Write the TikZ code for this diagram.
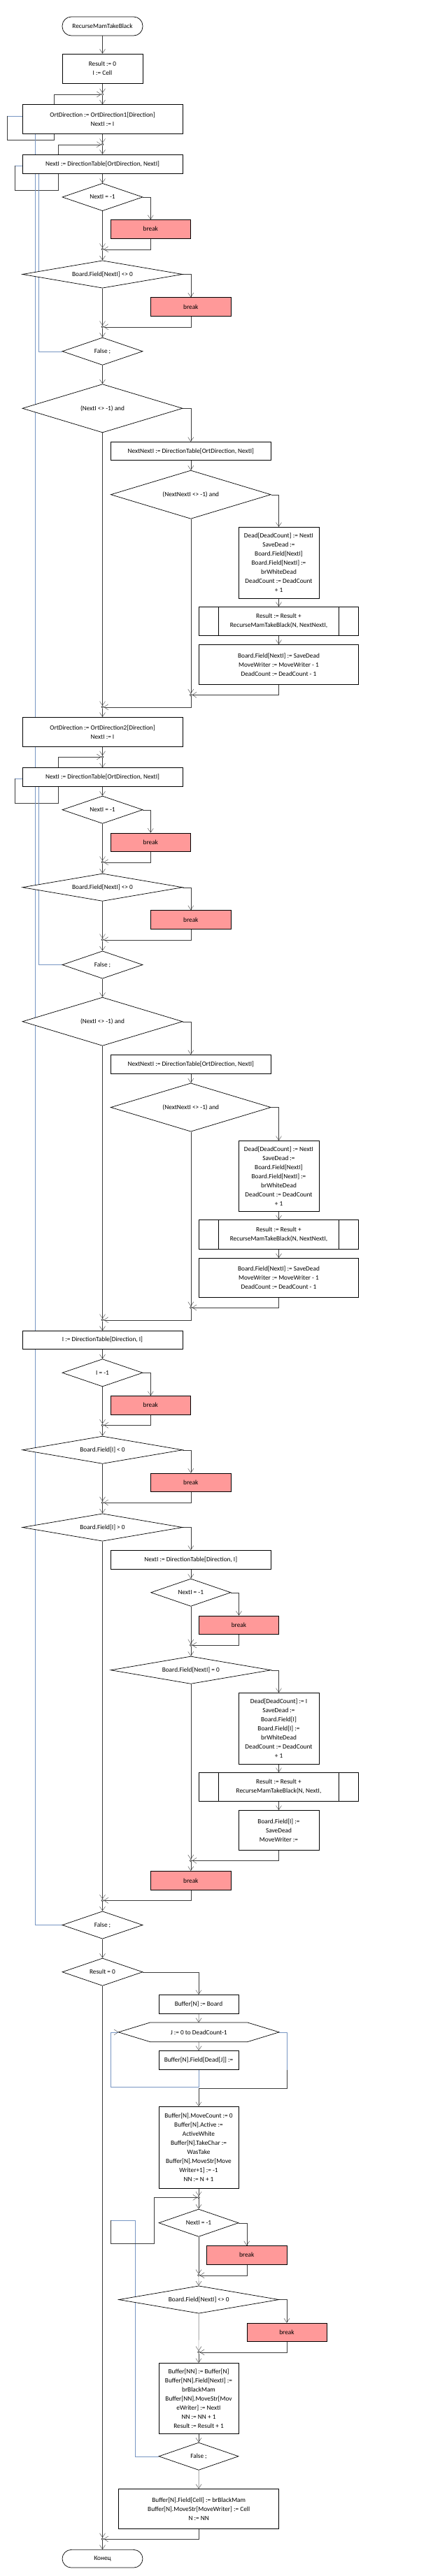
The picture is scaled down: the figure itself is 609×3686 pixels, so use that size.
\documentclass[tikz,border=0pt]{standalone}
\usepackage{fontspec}
\setmainfont{Carlito}
\usetikzlibrary{arrows.meta,shapes.geometric,backgrounds}

\definecolor{linegray}{RGB}{60,60,60}
\definecolor{loopblue}{RGB}{120,150,195}
\definecolor{breakred}{RGB}{255,153,153}

\begin{document}
\begin{tikzpicture}[x=1pt, y=-1pt, line width=0.7pt,
  every node/.style={font=\fontsize{9.3}{13}\selectfont},
  box/.style={rectangle, draw, fill=white, inner sep=0pt, align=center},
  wide box/.style={box, minimum width=229pt},
  small box/.style={box, minimum width=115pt},
  proc box/.style={box, minimum width=228.4pt},
  break box/.style={box, fill=breakred, minimum width=114.3pt, minimum height=26.6pt},
  term/.style={box, rounded corners=13pt, minimum width=115pt, minimum height=27pt},
  cond/.style={diamond, draw, fill=white, inner sep=0pt, minimum width=115pt, minimum height=39.4pt, aspect=2.9},
  wide cond/.style={cond, minimum width=229pt, aspect=5.8},
  tall cond/.style={cond, minimum width=229pt, minimum height=69.3pt, aspect=3.3},
  junc/.style={circle, draw=linegray, fill=white, inner sep=0pt, minimum size=3pt},
  flow/.style={draw=linegray, -{Straight Barb[length=6pt,width=8pt]}},
  loopline/.style={draw=loopblue}]

\useasboundingbox (0,0) rectangle (609,3686);

% first direction
\node[term] (start) at (146.5,37.5) {RecurseMamTakeBlack};
\node[small box, minimum height=42pt] (init) at (146.5,98) {Result := 0\\I := Cell};
\node[junc] (j1) at (146.5,135) {};
\node[wide box, minimum height=41.5pt] (ort1) at (146.5,170.5) {OrtDirection := OrtDirection1[Direction]\\NextI := I};
\node[junc] (j2) at (146.5,206.7) {};
\node[wide box, minimum height=27pt] (step1) at (146.5,234.5) {NextI := DirectionTable[OrtDirection, NextI]};
\node[cond] (d1a) at (146.5,282) {NextI = -1};
\node[break box] (brk1a) at (215.3,327.8) {break};
\node[junc] (j3) at (146.5,356.7) {};
\node[wide cond] (d1b) at (146.5,392.5) {Board.Field[NextI] <> 0};
\node[break box] (brk1b) at (272.8,439) {break};
\node[junc] (j4) at (146.5,467.7) {};
\node[cond] (f1) at (146.5,502.7) {False ;};
\node[tall cond] (d1c) at (146.5,584.3) {(NextI <> -1) and};
\node[wide box, minimum height=26pt] (nn1) at (272.8,645.3) {NextNextI := DirectionTable[OrtDirection, NextI]};
\node[tall cond] (d1d) at (272.8,707.7) {(NextNextI <> -1) and};
\node[small box, minimum height=102pt] (dead1) at (398.5,805.3) {Dead[DeadCount] := NextI\\SaveDead :=\\Board.Field[NextI]\\Board.Field[NextI] :=\\brWhiteDead\\DeadCount := DeadCount\\+ 1};
\node[proc box, minimum height=41pt] (rec1) at (398.5,888.8) {Result := Result +\\RecurseMamTakeBlack(N, NextNextI,};
\node[proc box, minimum height=57pt] (rest1) at (398.5,950.8) {Board.Field[NextI] := SaveDead\\MoveWriter := MoveWriter - 1\\DeadCount := DeadCount - 1};
\node[junc] (j5) at (272.8,994.3) {};
\node[junc] (j6) at (146.5,1011.7) {};

% second direction
\node[wide box, minimum height=42pt] (ort2) at (146.5,1047.3) {OrtDirection := OrtDirection2[Direction]\\NextI := I};
\node[junc] (j7) at (146.5,1083) {};
\node[wide box, minimum height=26.6pt] (step2) at (146.5,1112) {NextI := DirectionTable[OrtDirection, NextI]};
\node[cond] (d2a) at (146.5,1158.7) {NextI = -1};
\node[break box] (brk2a) at (215.3,1205.3) {break};
\node[junc] (j8) at (146.5,1233.7) {};
\node[wide cond] (d2b) at (146.5,1269.7) {Board.Field[NextI] <> 0};
\node[break box] (brk2b) at (272.8,1315.8) {break};
\node[junc] (j9) at (146.5,1344.7) {};
\node[cond] (f2) at (146.5,1380.5) {False ;};
\node[tall cond] (d2c) at (146.5,1461.7) {(NextI <> -1) and};
\node[wide box, minimum height=26.7pt] (nn2) at (272.8,1522.7) {NextNextI := DirectionTable[OrtDirection, NextI]};
\node[tall cond] (d2d) at (272.8,1584.5) {(NextNextI <> -1) and};
\node[small box, minimum height=101pt] (dead2) at (398.5,1682.8) {Dead[DeadCount] := NextI\\SaveDead :=\\Board.Field[NextI]\\Board.Field[NextI] :=\\brWhiteDead\\DeadCount := DeadCount\\+ 1};
\node[proc box, minimum height=41.6pt] (rec2) at (398.5,1766.5) {Result := Result +\\RecurseMamTakeBlack(N, NextNextI,};
\node[proc box, minimum height=55.7pt] (rest2) at (398.5,1828.2) {Board.Field[NextI] := SaveDead\\MoveWriter := MoveWriter - 1\\DeadCount := DeadCount - 1};
\node[junc] (j10) at (272.8,1871) {};
\node[junc] (j11) at (146.5,1888.7) {};

% step along direction
\node[wide box, minimum height=25.7pt] (stepI) at (146.5,1917.2) {I := DirectionTable[Direction, I]};
\node[cond] (d3a) at (146.5,1964.3) {I = -1};
\node[break box] (brk3a) at (215.3,2010.7) {break};
\node[junc] (j12) at (146.5,2039.3) {};
\node[wide cond] (d3b) at (146.5,2074.7) {Board.Field[I] < 0};
\node[break box] (brk3b) at (272.8,2121.3) {break};
\node[junc] (j13) at (146.5,2150) {};
\node[wide cond] (d3c) at (146.5,2185.5) {Board.Field[I] > 0};
\node[wide box, minimum height=27pt] (nx3) at (272.8,2231.8) {NextI := DirectionTable[Direction, I]};
\node[cond, minimum width=114.3pt] (d3d) at (272.8,2278.7) {NextI = -1};
\node[break box] (brk3d) at (341.5,2325.3) {break};
\node[junc] (j14) at (272.8,2354) {};
\node[wide cond] (d3e) at (272.8,2389.7) {Board.Field[NextI] = 0};
\node[small box, minimum height=102pt] (dead3) at (398.5,2473.3) {Dead[DeadCount] := I\\SaveDead :=\\Board.Field[I]\\Board.Field[I] :=\\brWhiteDead\\DeadCount := DeadCount\\+ 1};
\node[proc box, minimum height=41pt] (rec3) at (398.5,2556.8) {Result := Result +\\RecurseMamTakeBlack(N, NextI,};
\node[small box, minimum height=57pt] (rest3) at (398.5,2618.8) {Board.Field[I] :=\\SaveDead\\MoveWriter :=};
\node[junc] (j15) at (272.8,2662.3) {};
\node[break box, minimum height=27pt] (brk3e) at (272.8,2690.8) {break};
\node[junc] (j16) at (146.5,2719.3) {};
\node[cond] (f3) at (146.5,2754.5) {False ;};

% store the move
\node[cond] (dres) at (146.5,2821.7) {Result = 0};
\node[small box, minimum width=114pt, minimum height=27pt] (buf) at (284,2867.8) {Buffer[N] := Board};
\node[inner sep=0pt, minimum width=229pt, minimum height=27pt] (hexJ) at (284.2,2907.8) {J := 0 to DeadCount-1};
\node[small box, minimum width=114pt, minimum height=27pt] (bufJ) at (284,2947.8) {Buffer[N].Field[Dead[J]] :=};
\node[small box, minimum width=114pt, minimum height=117pt] (bufm) at (284,3072.8) {Buffer[N].MoveCount := 0\\Buffer[N].Active :=\\ActiveWhite\\Buffer[N].TakeChar :=\\WasTake\\Buffer[N].MoveStr[Move\\Writer+1] := -1\\NN := N + 1};
\node[junc] (j17) at (284,3144.3) {};
\node[cond, minimum width=114pt] (d4a) at (284,3180.7) {NextI = -1};
\node[break box] (brk4a) at (352.7,3226.7) {break};
\node[junc] (j18) at (284,3255.7) {};
\node[wide cond] (d4b) at (284.2,3290.5) {Board.Field[NextI] <> 0};
\node[break box] (brk4b) at (410,3337.3) {break};
\node[junc] (j19) at (284,3365.7) {};
\node[small box, minimum width=114pt, minimum height=101pt] (bufnn) at (284,3431.8) {Buffer[NN] := Buffer[N]\\Buffer[NN].Field[NextI] :=\\brBlackMam\\Buffer[NN].MoveStr[Mov\\eWriter] := NextI\\NN := NN + 1\\Result := Result + 1};
\node[cond, minimum width=114pt] (f4) at (284,3514.7) {False ;};
\node[wide box, minimum height=56.7pt] (fin) at (284.2,3589.7) {Buffer[N].Field[Cell] := brBlackMam\\Buffer[N].MoveStr[MoveWriter] := Cell\\N := NN};
\node[junc] (j20) at (146.5,3633) {};
\node[term, minimum height=25.7pt] (stop) at (146.5,3661.2) {Конец};

\foreach \p in {rec1,rec2,rec3} {
  \draw ([xshift=28.4pt]\p.north west) -- ([xshift=28.4pt]\p.south west);
  \draw ([xshift=-28.4pt]\p.north east) -- ([xshift=-28.4pt]\p.south east);
}
\draw (hexJ.west) -- ([xshift=45.3pt]hexJ.north west) -- ([xshift=-45.3pt]hexJ.north east)
  -- (hexJ.east) -- ([xshift=-45.3pt]hexJ.south east) -- ([xshift=45.3pt]hexJ.south west) -- cycle;

\begin{scope}[on background layer]
\path[flow]
    (start) edge (init)
    (init) edge (j1)
    (j1) edge (ort1)
    (ort1) edge (j2)
    (j2) edge (step1)
    (step1) edge (d1a)
    (d1a) edge (j3)
    (j3) edge (d1b)
    (d1b) edge (j4)
    (j4) edge (f1)
    (f1) edge (d1c)
    (d1c) edge (j6)
    (nn1) edge (d1d)
    (d1d) edge (j5)
    (dead1) edge (rec1)
    (rec1) edge (rest1)
    (j6) edge (ort2)
    (ort2) edge (j7)
    (j7) edge (step2)
    (step2) edge (d2a)
    (d2a) edge (j8)
    (j8) edge (d2b)
    (d2b) edge (j9)
    (j9) edge (f2)
    (f2) edge (d2c)
    (d2c) edge (j11)
    (nn2) edge (d2d)
    (d2d) edge (j10)
    (dead2) edge (rec2)
    (rec2) edge (rest2)
    (j11) edge (stepI)
    (stepI) edge (d3a)
    (d3a) edge (j12)
    (j12) edge (d3b)
    (d3b) edge (j13)
    (j13) edge (d3c)
    (d3c) edge (j16)
    (nx3) edge (d3d)
    (d3d) edge (j14)
    (j14) edge (d3e)
    (d3e) edge (j15)
    (dead3) edge (rec3)
    (rec3) edge (rest3)
    (j15) edge (brk3e)
    (j16) edge (f3)
    (f3) edge (dres)
    (dres) edge (j20)
    (buf) edge (hexJ)
    (hexJ) edge (bufJ)
    (bufm) edge (j17)
    (j17) edge (d4a)
    (d4a) edge (j18)
    (j18) edge (d4b)
    (d4b) edge (j19)
    (j19) edge (bufnn)
    (bufnn) edge (f4)
    (f4) edge (fin)
    (j20) edge (stop);

\draw[flow] (d1a) -| (brk1a);
\draw[flow] (brk1a) |- (j3);
\draw[flow] (d1b) -| (brk1b);
\draw[flow] (brk1b) |- (j4);
\draw[flow] (d1c) -| (nn1);
\draw[flow] (d1d) -| (dead1);
\draw[flow] (rest1) |- (j5);
\draw[flow] (j5) |- (j6);

\draw[flow] (d2a) -| (brk2a);
\draw[flow] (brk2a) |- (j8);
\draw[flow] (d2b) -| (brk2b);
\draw[flow] (brk2b) |- (j9);
\draw[flow] (d2c) -| (nn2);
\draw[flow] (d2d) -| (dead2);
\draw[flow] (rest2) |- (j10);
\draw[flow] (j10) |- (j11);

\draw[flow] (d3a) -| (brk3a);
\draw[flow] (brk3a) |- (j12);
\draw[flow] (d3b) -| (brk3b);
\draw[flow] (brk3b) |- (j13);
\draw[flow] (d3c) -| (nx3);
\draw[flow] (d3d) -| (brk3d);
\draw[flow] (brk3d) |- (j14);
\draw[flow] (d3e) -| (dead3);
\draw[flow] (rest3) |- (j15);
\draw[flow] (brk3e) |- (j16);

\draw[flow] (dres) -| (buf);
\draw[flow] (d4a) -| (brk4a);
\draw[flow] (brk4a) |- (j18);
\draw[flow] (d4b) -| (brk4b);
\draw[flow] (brk4b) |- (j19);
\draw[flow] (fin) |- (j20);

% loops
\coordinate (o1) at (9.7,165.7);
\draw[loopline] (o1) -- (o1 -| ort1.west);
\draw[flow] (o1) |- (77.3,200.3) -- (77.3,135) -- (j1);
\coordinate (o2) at (20.7,237.3);
\draw[loopline] (o2) -- (o2 -| step1.west);
\draw[flow] (o2) |- (82.7,272.3) -- (82.7,206.7) -- (j2);
\coordinate (o3) at (20.7,1114.3);
\draw[loopline] (o3) -- (o3 -| step2.west);
\draw[flow] (o3) |- (82.7,1149) -- (82.7,1083) -- (j7);

\draw[loopline] (f1) -| ([xshift=-91.5pt]step1.south);
\draw[loopline] (f2) -| ([xshift=-91.5pt]step2.south);
\draw[loopline] (f3) -| ([xshift=-96.5pt]ort1.south);

\draw[loopline, -{Straight Barb[length=6pt,width=8pt,color=linegray]}] (bufJ) |- (158.3,2985.7) |- (hexJ.west);
\coordinate (hexout) at (410,2961.7);
\draw[loopline] (hexJ.east) -| (hexout);
\draw[flow] (hexout) |- (284,2987.7) -- (bufm);

\coordinate (o4) at (158.3,3176.7);
\draw[loopline] (f4) -| (192.7,3176.7) -- (o4);
\draw[flow] (o4) |- (220.3,3210.3) -- (220.3,3144.3) -- (j17);
\end{scope}

\end{tikzpicture}
\end{document}
